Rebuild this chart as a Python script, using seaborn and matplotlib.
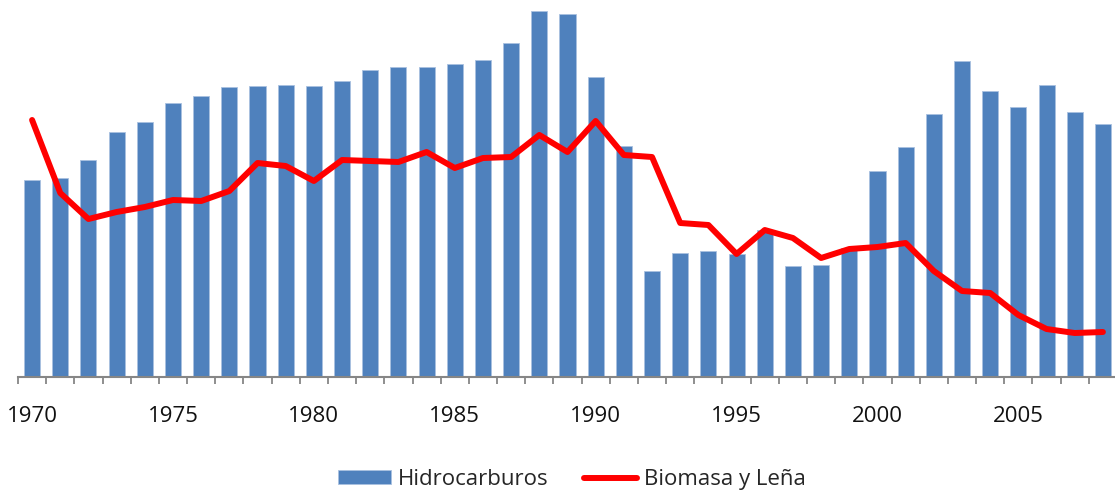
import numpy as np
import pandas as pd
import matplotlib
matplotlib.use("Agg")
import matplotlib.pyplot as plt
import seaborn as sns
from matplotlib.ticker import FixedLocator

# values (arbitrary units, no y scale shown)
years = list(range(1970, 2009))
hidrocarburos = [197, 199, 217, 245, 255, 274, 281, 290, 291, 292,
                 291, 296, 307, 310, 310, 313, 317, 334, 366, 363,
                 300, 231, 106, 124, 126, 123, 147, 111, 112, 129,
                 206, 230, 263, 316, 286, 270, 292, 265, 253]
biomasa = [257, 184, 158, 165, 170, 177, 176, 186, 214, 211,
           196, 217, 216, 215, 225, 209, 219, 220, 242, 225,
           256, 222, 220, 154, 152, 123, 147, 139, 119, 128,
           130, 134, 106, 86, 84, 62, 48, 44, 45]
tick_years = [1970, 1975, 1980, 1985, 1990, 1995, 2000, 2005]

df = pd.DataFrame({"year": years, "Hidrocarburos": hidrocarburos, "Biomasa y Leña": biomasa})

sns.set_style("white")
plt.rcParams['font.family'] = ['Open Sans', 'DejaVu Sans']

fig = plt.figure(figsize=(11.15, 4.95), dpi=100)
ax = fig.add_axes([18 / 1115, 118 / 495, 1099 / 1115, 377 / 495])

sns.barplot(data=df, x="year", y="Hidrocarburos", native_scale=True, width=0.57,
            color="#4F81BD", saturation=1, edgecolor="#a9c1e0", linewidth=0.6,
            label="Hidrocarburos", ax=ax)
sns.lineplot(data=df, x="year", y="Biomasa y Leña", color="#FF0000", linewidth=4.3,
             solid_capstyle="round", solid_joinstyle="round", label="Biomasa y Leña", ax=ax)

ax.set_xlim(1969.5, 2008.5)
ax.set_ylim(0, 377)
ax.set_xlabel("")
ax.set_ylabel("")
ax.set_yticks([])
ax.xaxis.set_major_locator(FixedLocator(tick_years))
ax.set_xticklabels([str(y) for y in tick_years])
ax.xaxis.set_minor_locator(FixedLocator([y - 0.5 for y in years] + [2008.5]))
ax.tick_params(axis="x", which="major", length=0, pad=21, labelsize=16, labelcolor="#111111")
ax.tick_params(axis="x", which="minor", length=5, width=1.3, color="#868686", bottom=True)

for s in ["top", "right", "left"]:
    ax.spines[s].set_visible(False)
ax.spines["bottom"].set_color("#868686")
ax.spines["bottom"].set_linewidth(1.5)

handles, labels = ax.get_legend_handles_labels()
if ax.get_legend():
    ax.get_legend().remove()
order = [labels.index("Hidrocarburos"), labels.index("Biomasa y Leña")]
fig.legend([handles[i] for i in order], [labels[i] for i in order],
           loc="center", bbox_to_anchor=(0.513, 0.031), ncol=2,
           frameon=False, fontsize=16, handlelength=2.4, handleheight=0.6,
           columnspacing=1.6, handletextpad=0.3)

fig.savefig("out.png", dpi=100)
